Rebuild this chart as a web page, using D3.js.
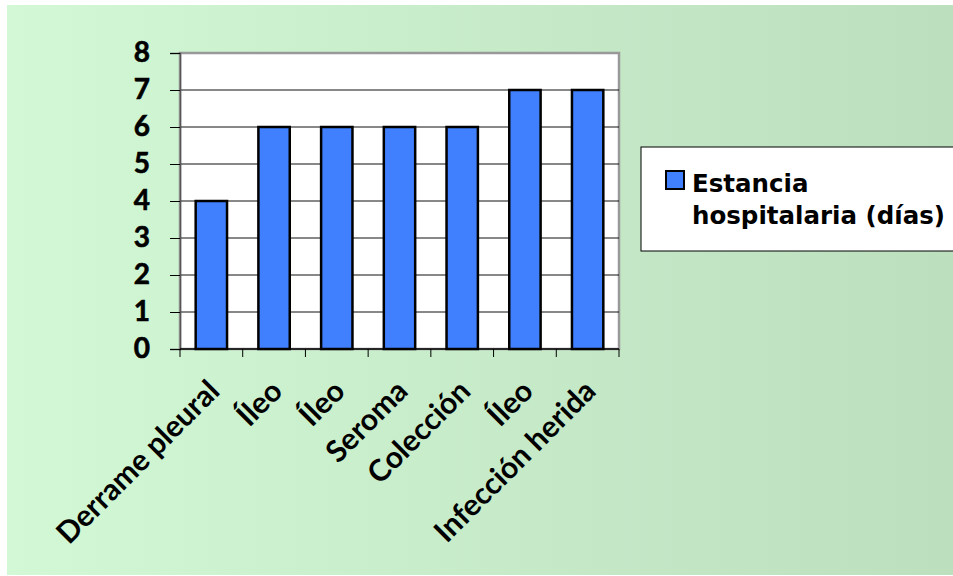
<!DOCTYPE html>
<html>
<head>
<meta charset="utf-8">
<script src="https://cdn.jsdelivr.net/npm/d3@7"></script>
<style>
  body { margin: 0; background: #fff; }
  svg { display: block; }
</style>
</head>
<body>
<div id="chart"></div>
<script>
// Data
const categories = ["Derrame pleural", "Íleo", "Íleo", "Seroma", "Colección", "Íleo", "Infección herida"];
const values = [4, 6, 6, 6, 6, 7, 7];
const yTicks = [0, 1, 2, 3, 4, 5, 6, 7, 8];
const seriesName = ["Estancia", "hospitalaria (días)"];

const width = 953, height = 576;
const plot = { left: 180, right: 619, top: 53, bottom: 349 };

const svg = d3.select("#chart")
  .append("svg")
  .attr("width", width)
  .attr("height", height);

// background gradient
const grad = svg.append("defs").append("linearGradient")
  .attr("id", "bg")
  .attr("x1", "0%").attr("x2", "100%").attr("y1", "0%").attr("y2", "0%");
grad.append("stop").attr("offset", "0%").attr("stop-color", "#d2f8d5");
grad.append("stop").attr("offset", "100%").attr("stop-color", "#bcdfbe");

svg.append("rect")
  .attr("x", 7).attr("y", 5)
  .attr("width", width - 7).attr("height", 570)
  .attr("fill", "url(#bg)");

// scales
const x = d3.scaleBand()
  .domain(d3.range(categories.length))
  .range([plot.left, plot.right])
  .paddingInner(0.5)
  .paddingOuter(0.25);

const y = d3.scaleLinear()
  .domain([0, 8])
  .range([plot.bottom, plot.top]);

// plot area
svg.append("rect")
  .attr("x", plot.left).attr("y", plot.top)
  .attr("width", plot.right - plot.left)
  .attr("height", plot.bottom - plot.top)
  .attr("fill", "#fff")
  .attr("stroke", "#999")
  .attr("stroke-width", 2.5);

// gridlines
svg.append("g")
  .selectAll("line")
  .data(yTicks.slice(1, -1))
  .enter()
  .append("line")
  .attr("x1", plot.left).attr("x2", plot.right)
  .attr("y1", d => y(d)).attr("y2", d => y(d))
  .attr("stroke", "#111")
  .attr("stroke-width", 1);

// bars
svg.selectAll(".bar")
  .data(values)
  .enter()
  .append("rect")
  .attr("x", (d, i) => x(i))
  .attr("y", d => y(d))
  .attr("width", x.bandwidth())
  .attr("height", d => plot.bottom - y(d))
  .attr("fill", "#4080ff")
  .attr("stroke", "#000")
  .attr("stroke-width", 2.5);

// y axis
const yAxis = svg.append("g")
  .attr("transform", `translate(${plot.left},0)`)
  .call(d3.axisLeft(y).tickValues(yTicks).tickSize(10).tickPadding(20));
yAxis.select(".domain").attr("stroke", "#555").attr("stroke-width", 1.5);
yAxis.selectAll(".tick line").attr("stroke", "#000");
yAxis.selectAll("text")
  .attr("font-family", "Lato, sans-serif")
  .attr("font-weight", "bold")
  .attr("font-size", 28)
  .attr("stroke", "#000")
  .attr("stroke-width", 0.6)
  .attr("fill", "#000");

// x axis (tick marks at band edges)
const edges = d3.range(categories.length + 1).map(i => plot.left + i * (plot.right - plot.left) / categories.length);
svg.append("line")
  .attr("x1", plot.left).attr("x2", plot.right)
  .attr("y1", plot.bottom).attr("y2", plot.bottom)
  .attr("stroke", "#000").attr("stroke-width", 1.5);
svg.append("g")
  .selectAll("line")
  .data(edges)
  .enter()
  .append("line")
  .attr("x1", d => d).attr("x2", d => d)
  .attr("y1", plot.bottom).attr("y2", plot.bottom + 8)
  .attr("stroke", "#000");

svg.append("g")
  .selectAll("text")
  .data(categories)
  .enter()
  .append("text")
  .attr("transform", (d, i) => `translate(${x(i) + x.bandwidth() / 2 + 10},${plot.bottom + 44}) rotate(-45)`)
  .attr("text-anchor", "end")
  .attr("font-family", "Lato, sans-serif")
  .attr("font-weight", "bold")
  .attr("font-size", 30)
  .attr("fill", "#000")
  .text(d => d);

// legend
const lg = svg.append("g");
lg.append("rect")
  .attr("x", 641).attr("y", 147)
  .attr("width", 320).attr("height", 104)
  .attr("fill", "#fff")
  .attr("stroke", "#000")
  .attr("stroke-width", 1);
lg.append("rect")
  .attr("x", 666).attr("y", 171)
  .attr("width", 18).attr("height", 18)
  .attr("fill", "#4080ff")
  .attr("stroke", "#000")
  .attr("stroke-width", 2);
lg.selectAll("text")
  .data(seriesName)
  .enter()
  .append("text")
  .attr("x", 692)
  .attr("y", (d, i) => 192 + i * 32)
  .attr("font-family", "'DejaVu Sans', sans-serif")
  .attr("font-weight", "bold")
  .attr("font-size", 24.5)
  .attr("fill", "#000")
  .text(d => d);
</script>
</body>
</html>
